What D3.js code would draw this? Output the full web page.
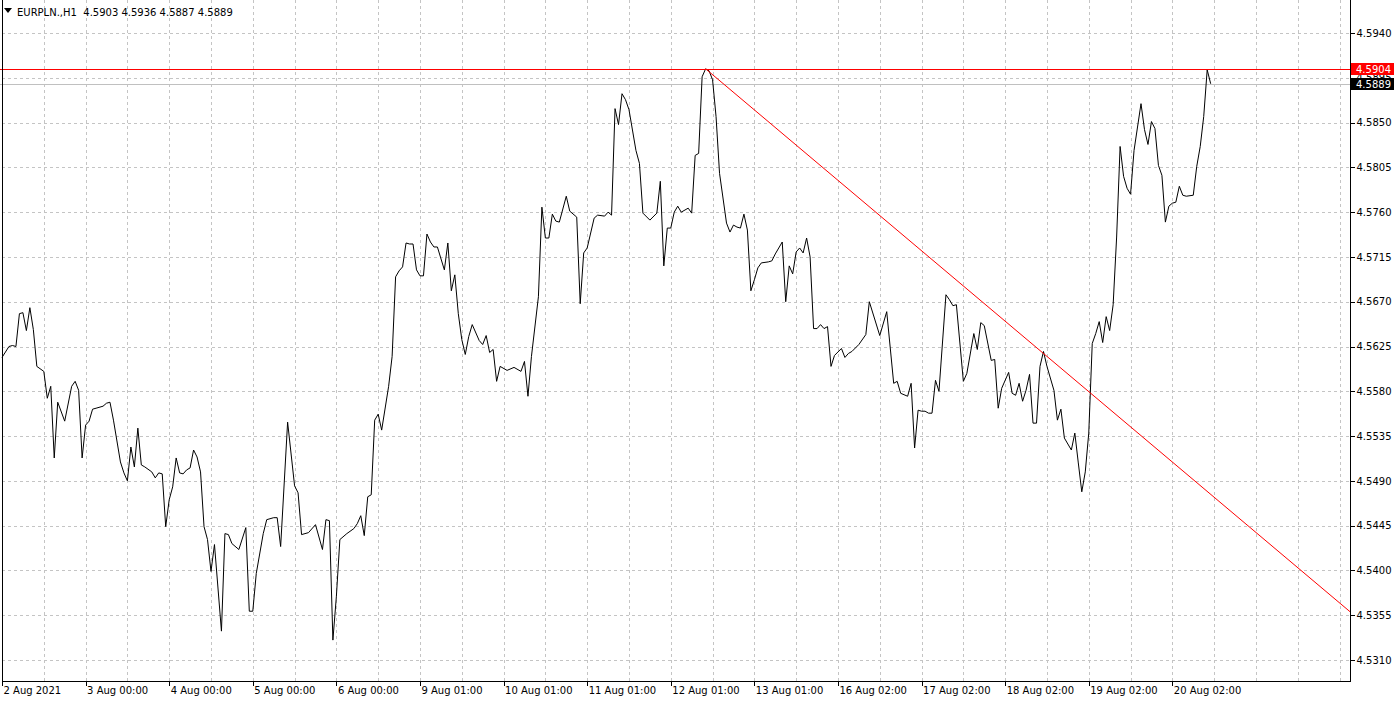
<!DOCTYPE html>
<html>
<head>
<meta charset="utf-8">
<script src="https://cdn.jsdelivr.net/npm/d3@7/dist/d3.min.js"></script>
<style>
  html, body { margin: 0; padding: 0; background: #fff; }
  svg { display: block; }
  text { font-family: "DejaVu Sans", Tahoma, sans-serif; font-size: 10px; fill: #000; }
</style>
</head>
<body>
<div id="chart"></div>
<script>
// ---------- DATA ----------
const symbolTitle = "EURPLN.,H1";
const ohlc = ["4.5903", "4.5936", "4.5887", "4.5889"];

// x-axis labels (placed every 24 hourly bars)
const timeLabels = ["2 Aug 2021", "3 Aug 00:00", "4 Aug 00:00", "5 Aug 00:00", "6 Aug 00:00",
  "9 Aug 01:00", "10 Aug 01:00", "11 Aug 01:00", "12 Aug 01:00", "13 Aug 01:00",
  "16 Aug 02:00", "17 Aug 02:00", "18 Aug 02:00", "19 Aug 02:00", "20 Aug 02:00"];
const timeLabelBars = [0, 24, 48, 72, 96, 120, 144, 168, 192, 216, 240, 264, 288, 312, 336];

// price axis ticks
const priceTicks = [4.5310, 4.5355, 4.5400, 4.5445, 4.5490, 4.5535, 4.5580, 4.5625,
  4.5670, 4.5715, 4.5760, 4.5805, 4.5850, 4.5895, 4.5940];

// visible window in bars and prices
const barDomain = [0, 387];
const priceDomain = [4.5310, 4.5940];

// H1 close series: [bar index, close]
const closeSeries = [
  [0,4.5614],[2,4.5625],[3,4.5626],[4,4.5625],[5,4.5658],[6,4.5659],[7,4.5641],[8,4.5664],[9,4.5642],[10,4.5605],[12,4.5600],[13,4.5573],[14,4.5585],[15,4.5513],[16,4.5569],[18,4.5550],[20,4.5585],[21,4.5590],[22,4.5581],[23,4.5513],
  [24,4.5546],[25,4.5550],[26,4.5562],[27,4.5563],[29,4.5565],[30,4.5568],[31,4.5569],[32,4.5551],[34,4.5509],[35,4.5498],[36,4.5490],[37,4.5524],[38,4.5504],[39,4.5543],[40,4.5506],[41,4.5504],[43,4.5499],[44,4.5493],[45,4.5498],[46,4.5497],[47,4.5444],
  [48,4.5471],[49,4.5484],[50,4.5513],[51,4.5498],[52,4.5497],[53,4.5501],[54,4.5503],[55,4.5521],[56,4.5514],[57,4.5499],[58,4.5444],[59,4.5431],[60,4.5399],[61,4.5426],[63,4.5339],[64,4.5437],[65,4.5436],[66,4.5427],[68,4.5421],[70,4.5443],[71,4.5359],
  [72,4.5359],[73,4.5397],[75,4.5437],[76,4.5451],[78,4.5453],[79,4.5453],[80,4.5424],[82,4.5549],[84,4.5485],[85,4.5478],[86,4.5436],[88,4.5438],[90,4.5446],[92,4.5421],[93,4.5451],[94,4.5450],[95,4.5330],
  [96,4.5374],[97,4.5431],[99,4.5437],[101,4.5442],[102,4.5447],[103,4.5455],[104,4.5435],[105,4.5474],[106,4.5476],[107,4.5551],[108,4.5557],[109,4.5541],[111,4.5585],[112,4.5615],[113,4.5695],[114,4.5701],[115,4.5705],[116,4.5729],[117,4.5728],[118,4.5728],[119,4.5702],
  [120,4.5696],[121,4.5696],[122,4.5738],[123,4.5730],[124,4.5725],[125,4.5725],[127,4.5702],[128,4.5729],[129,4.5681],[130,4.5697],[131,4.5658],[132,4.5632],[133,4.5617],[134,4.5635],[135,4.5647],[137,4.5631],[138,4.5627],[139,4.5636],[140,4.5619],[141,4.5622],[142,4.5590],[143,4.5605],
  [145,4.5601],[147,4.5604],[149,4.5600],[150,4.5610],[151,4.5575],[152,4.5615],[154,4.5675],[155,4.5765],[156,4.5734],[157,4.5734],[158,4.5758],[159,4.5751],[160,4.5750],[162,4.5776],[163,4.5761],[165,4.5755],[166,4.5668],[167,4.5719],
  [168,4.5724],[170,4.5754],[171,4.5757],[173,4.5756],[174,4.5760],[175,4.5757],[176,4.5864],[177,4.5848],[178,4.5879],[179,4.5873],[180,4.5863],[182,4.5822],[183,4.5809],[184,4.5759],[186,4.5752],[188,4.5759],[189,4.5791],[190,4.5706],[191,4.5744],
  [192,4.5744],[193,4.5760],[194,4.5766],[195,4.5760],[197,4.5764],[198,4.5759],[199,4.5817],[200,4.5819],[201,4.5896],[202,4.5904],[203,4.5902],[204,4.5893],[205,4.5856],[206,4.5799],[208,4.5749],[209,4.5740],[210,4.5747],[211,4.5745],[212,4.5744],[213,4.5758],[214,4.5742],[215,4.5681],
  [216,4.5692],[217,4.5704],[218,4.5709],[220,4.5710],[221,4.5711],[222,4.5718],[224,4.5730],[225,4.5670],[226,4.5706],[227,4.5698],[228,4.5720],[229,4.5724],[230,4.5719],[231,4.5734],[232,4.5715],[233,4.5643],[234,4.5643],[235,4.5647],[236,4.5643],[237,4.5645],[238,4.5605],[239,4.5616],
  [241,4.5623],[242,4.5614],[243,4.5618],[244,4.5620],[246,4.5627],[248,4.5637],[249,4.5670],[252,4.5636],[254,4.5660],[256,4.5588],[257,4.5590],[258,4.5578],[260,4.5575],[261,4.5588],[262,4.5523],[263,4.5561],
  [264,4.5560],[265,4.5560],[266,4.5558],[267,4.5558],[268,4.5591],[269,4.5580],[271,4.5677],[272,4.5672],[273,4.5666],[274,4.5667],[276,4.5590],[277,4.5598],[279,4.5638],[280,4.5622],[281,4.5649],[282,4.5646],[284,4.5611],[285,4.5612],[286,4.5563],[287,4.5583],
  [289,4.5599],[290,4.5578],[291,4.5576],[292,4.5588],[293,4.5570],[294,4.5581],[295,4.5597],[296,4.5548],[297,4.5548],[298,4.5605],[299,4.5620],[300,4.5605],[302,4.5581],[303,4.5551],[304,4.5562],[305,4.5533],[307,4.5521],[308,4.5538],[309,4.5508],[310,4.5479],[311,4.5499],
  [312,4.5538],[313,4.5628],[314,4.5638],[315,4.5650],[316,4.5629],[317,4.5655],[318,4.5641],[319,4.5667],[320,4.5735],[321,4.5826],[322,4.5796],[323,4.5784],[324,4.5778],[325,4.5822],[327,4.5869],[328,4.5843],[329,4.5828],[330,4.5851],[331,4.5844],[332,4.5807],[333,4.5797],[334,4.5750],[335,4.5766],
  [336,4.5769],[337,4.5770],[338,4.5786],[339,4.5777],[340,4.5776],[342,4.5777],[343,4.5806],[344,4.5826],[345,4.5856],[346,4.5903],[347,4.5889]
];

// horizontal level & bid line
const levelPrice = 4.5904;
const bidPrice = 4.5889;
// trend line anchors (bar, price)
const trendBars = [202, 299];
const trendPrices = [4.5904, 4.5618];

// ---------- CHART ----------
const W = 1400, H = 701;
const plotLeft = 2, plotRight = 1350, plotTop = 0, plotBottom = 681;

const svg = d3.select("#chart").append("svg").attr("width", W).attr("height", H);
svg.append("rect").attr("width", W).attr("height", H).attr("fill", "#fff");

const x = d3.scaleLinear().domain(barDomain).range([plotLeft, plotRight]);
const y = d3.scaleLinear().domain(priceDomain).range([660, 33]);

const snap = v => Math.round(v) + 0.5;

// grid
const grid = svg.append("g").attr("shape-rendering", "crispEdges")
  .attr("stroke", "#c4c4c4").attr("stroke-dasharray", "3,3").attr("stroke-width", 1);
grid.selectAll("line.h").data(priceTicks).join("line").attr("class", "h")
  .attr("x1", plotLeft).attr("x2", plotRight)
  .attr("y1", d => snap(y(d))).attr("y2", d => snap(y(d)));
const vGridBars = d3.range(12, barDomain[1], 12);
grid.selectAll("line.v").data(vGridBars).join("line").attr("class", "v")
  .attr("y1", plotTop).attr("y2", plotBottom)
  .attr("x1", d => snap(x(d))).attr("x2", d => snap(x(d)));

// clip for plot
svg.append("clipPath").attr("id", "plotClip").append("rect")
  .attr("x", 0).attr("y", plotTop).attr("width", plotRight).attr("height", plotBottom - plotTop);
const plot = svg.append("g").attr("clip-path", "url(#plotClip)");

// bid line (gray)
plot.append("rect").attr("shape-rendering", "crispEdges")
  .attr("x", 0).attr("width", plotRight)
  .attr("y", Math.round(y(bidPrice))).attr("height", 1)
  .attr("fill", "#c0c0c0");

// price line
const line = d3.line().x(d => x(d[0])).y(d => y(d[1]));
plot.append("path").datum(closeSeries).attr("d", line)
  .attr("fill", "none").attr("stroke", "#000").attr("stroke-width", 1);

// horizontal red level
plot.append("rect").attr("shape-rendering", "crispEdges")
  .attr("x", 0).attr("width", plotRight)
  .attr("y", Math.round(y(levelPrice))).attr("height", 1)
  .attr("fill", "#ff0000");

// trend line extended to right edge
const slope = (trendPrices[1] - trendPrices[0]) / (trendBars[1] - trendBars[0]);
const trendEndBar = barDomain[1];
const trendEndPrice = trendPrices[0] + slope * (trendEndBar - trendBars[0]);
plot.append("line")
  .attr("x1", x(trendBars[0])).attr("y1", y(trendPrices[0]))
  .attr("x2", x(trendEndBar)).attr("y2", y(trendEndPrice))
  .attr("stroke", "#ff0000").attr("stroke-width", 1);

// right price axis
const yAxis = d3.axisRight(y).tickValues(priceTicks).tickSize(4).tickSizeOuter(0).tickPadding(2)
  .tickFormat(d3.format(".4f"));
const gy = svg.append("g").attr("transform", `translate(${plotRight + 0.5},0)`).call(yAxis);
gy.select(".domain").remove();
gy.attr("font-family", null).attr("font-size", null);
gy.selectAll(".tick line").attr("stroke", "#000").attr("shape-rendering", "crispEdges");
gy.selectAll(".tick text").style("fill", "#000");

// bottom time axis
const xAxis = d3.axisBottom(x).tickValues(timeLabelBars).tickSize(4).tickSizeOuter(0)
  .tickFormat((d, i) => timeLabels[i]);
const gx = svg.append("g").attr("transform", `translate(0,${plotBottom + 0.5})`).call(xAxis);
gx.select(".domain").remove();
gx.attr("font-family", null).attr("font-size", null);
gx.selectAll(".tick line").attr("stroke", "#000").attr("shape-rendering", "crispEdges");
gx.selectAll(".tick text").attr("text-anchor", "start").attr("x", 1).attr("y", 5).attr("dy", "0.71em").style("fill", "#000");

// frame
const frame = svg.append("g").attr("stroke", "#000").attr("stroke-width", 1).attr("shape-rendering", "crispEdges");
frame.append("line").attr("x1", plotLeft + 0.5).attr("x2", plotLeft + 0.5).attr("y1", plotTop).attr("y2", plotBottom + 0.5);
frame.append("line").attr("x1", plotLeft).attr("x2", plotRight + 1).attr("y1", plotBottom + 0.5).attr("y2", plotBottom + 0.5);
frame.append("line").attr("x1", plotRight + 0.5).attr("x2", plotRight + 0.5).attr("y1", plotTop).attr("y2", plotBottom + 0.5);

// price labels on the axis
function priceTag(price, bg) {
  const yy = Math.round(y(price));
  const g = svg.append("g");
  g.append("rect").attr("x", plotRight + 1).attr("y", yy - 6).attr("width", 43).attr("height", 12)
    .attr("fill", bg).attr("shape-rendering", "crispEdges");
  g.append("text").attr("x", plotRight + 6).attr("y", yy).attr("dy", "0.36em")
    .style("fill", "#fff").text(d3.format(".4f")(price));
}
priceTag(levelPrice, "#ff0000");
priceTag(bidPrice, "#000000");

// header
const header = svg.append("g");
header.append("path").attr("d", "M4,8 L12,8 L8,13 Z").attr("fill", "#000");
header.append("text").attr("x", 17).attr("y", 12).attr("dy", "0.35em")
  .style("white-space", "pre").attr("xml:space", "preserve")
  .text(symbolTitle + "  " + ohlc.join(" "));
</script>
</body>
</html>
